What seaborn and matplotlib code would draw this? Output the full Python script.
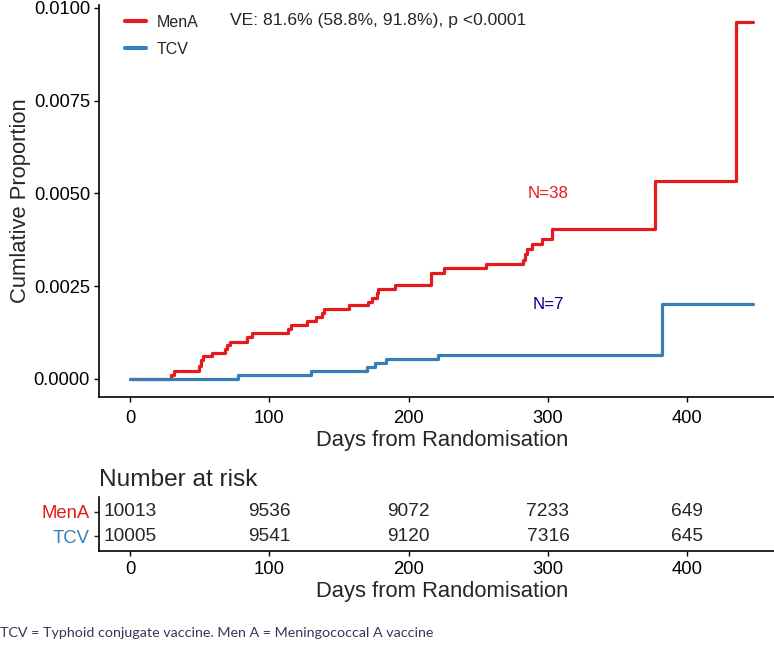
import matplotlib
matplotlib.use('Agg')
import numpy as np
import pandas as pd
import seaborn as sns
import matplotlib.pyplot as plt

# cumulative incidence curves (step times in days)
mena_days = [0, 29.4, 31.6, 49.7, 50.8, 52.6, 58.6, 68.5, 69.4, 71.8, 83.8, 87.4,
             113.6, 115.4, 126.8, 133.3, 137.6, 139.5, 157.2, 171.0, 173.5, 177.1,
             178.0, 190.2, 216.0, 225.4, 255.6, 281.9, 283.6, 285.2, 288.6, 295.8,
             302.9, 376.9, 435.0, 447.5]
mena_cum = [0, 0.00010, 0.00021, 0.00036, 0.00051, 0.00062, 0.00071, 0.00082, 0.00092,
            0.00101, 0.00112, 0.00124, 0.00135, 0.00146, 0.00156, 0.00166, 0.00177,
            0.00188, 0.00199, 0.00208, 0.00219, 0.00231, 0.00242, 0.00252, 0.00286,
            0.00298, 0.00309, 0.00320, 0.00336, 0.00349, 0.00363, 0.00378, 0.00405,
            0.00534, 0.00961, 0.00961]
tcv_days = [0, 77.7, 129.7, 169.9, 175.9, 183.8, 221.3, 382.1, 447.5]
tcv_cum = [0, 0.00011, 0.00022, 0.00031, 0.00044, 0.00054, 0.00064, 0.00202, 0.00202]

# number at risk table
risk_days = [0, 100, 200, 300, 400]
mena_risk = [10013, 9536, 9072, 7233, 649]
tcv_risk = [10005, 9541, 9120, 7316, 645]

RED = '#E41A1C'
BLUE = '#377EB8'

sns.set_style('ticks')
plt.rcParams['font.family'] = ['Liberation Sans', 'DejaVu Sans']

curves = pd.concat([
    pd.DataFrame({'day': mena_days, 'cum': mena_cum, 'arm': 'MenA'}),
    pd.DataFrame({'day': tcv_days, 'cum': tcv_cum, 'arm': 'TCV'}),
])

W, H = 774, 649
fig = plt.figure(figsize=(W / 100, H / 100), dpi=100)

# main panel (extends slightly past the right edge, as in the original)
ax = fig.add_axes([98.8 / W, 1 - 396.8 / H, 686 / W, 392.2 / H])
sns.lineplot(data=curves, x='day', y='cum', hue='arm', palette={'MenA': RED, 'TCV': BLUE},
             drawstyle='steps-post', estimator=None, lw=2.3, ax=ax)
ax.set_xlim(-22.4, 470)
ax.set_ylim(-0.00048, 0.01009)
ax.set_xticks([0, 100, 200, 300, 400])
ax.set_yticks([0, 0.0025, 0.005, 0.0075, 0.01])
ax.set_yticklabels(['0.0000', '0.0025', '0.0050', '0.0075', '0.0100'])
ax.set_xlabel('Days from Randomisation', fontsize=15.8, labelpad=2)
ax.set_ylabel('Cumlative Proportion', fontsize=15.8, labelpad=2)
ax.tick_params(labelsize=13.2, length=3.4, width=1.0, pad=3, colors='black')
ax.tick_params(axis='x', pad=6)
for s in ['left', 'bottom']:
    ax.spines[s].set_linewidth(1.2)
    ax.spines[s].set_color('black')
sns.despine(ax=ax)

sns.move_legend(ax, 'upper left', bbox_to_anchor=(125 / W, 1 - 15 / H),
                bbox_transform=fig.transFigure, frameon=False, title=None,
                fontsize=11.5, handlelength=1.3, handletextpad=0.7,
                labelspacing=0.75, borderpad=0, borderaxespad=0)
for line in ax.get_legend().get_lines():
    line.set_linewidth(3)

ax.text(71.8, 0.00965, 'VE: 81.6% (58.8%, 91.8%), p <0.0001', fontsize=12.6,
        ha='left', va='center')
ax.text(300, 0.0050, 'N=38', color=RED, fontsize=12.2, ha='center', va='center')
ax.text(300, 0.0020, 'N=7', color='#00008B', fontsize=12.2, ha='center', va='center')

# risk table
ax2 = fig.add_axes([98.8 / W, 1 - 550.7 / H, 686 / W, 53.4 / H])
ax2.set_xlim(-22.4, 470)
ax2.set_ylim(0.4, 2.6)
for d, m, t in zip(risk_days, mena_risk, tcv_risk):
    ax2.text(d, 2, str(m), ha='center', va='center', fontsize=13.8)
    ax2.text(d, 1, str(t), ha='center', va='center', fontsize=13.8)
ax2.set_xticks(risk_days)
ax2.set_yticks([1, 2])
ax2.set_yticklabels(['TCV', 'MenA'])
ax2.get_yticklabels()[0].set_color(BLUE)
ax2.get_yticklabels()[1].set_color(RED)
ax2.tick_params(labelsize=13.3, length=3.4, width=1.0, pad=3)
ax2.tick_params(axis='x', colors='black', pad=4)
ax2.set_xlabel('Days from Randomisation', fontsize=15.8, labelpad=2)
for s in ['left', 'bottom']:
    ax2.spines[s].set_linewidth(1.2)
    ax2.spines[s].set_color('black')
sns.despine(ax=ax2)
ax2.set_title('Number at risk', loc='left', fontsize=17.6, pad=8, x=0.0)

fig.text(0, 1 - 633 / H, 'TCV = Typhoid conjugate vaccine. Men A = Meningococcal A vaccine',
         fontsize=10.3, color='#33385a', ha='left', va='center', family=['Lato', 'DejaVu Sans'])

fig.savefig('out.png', dpi=100)
